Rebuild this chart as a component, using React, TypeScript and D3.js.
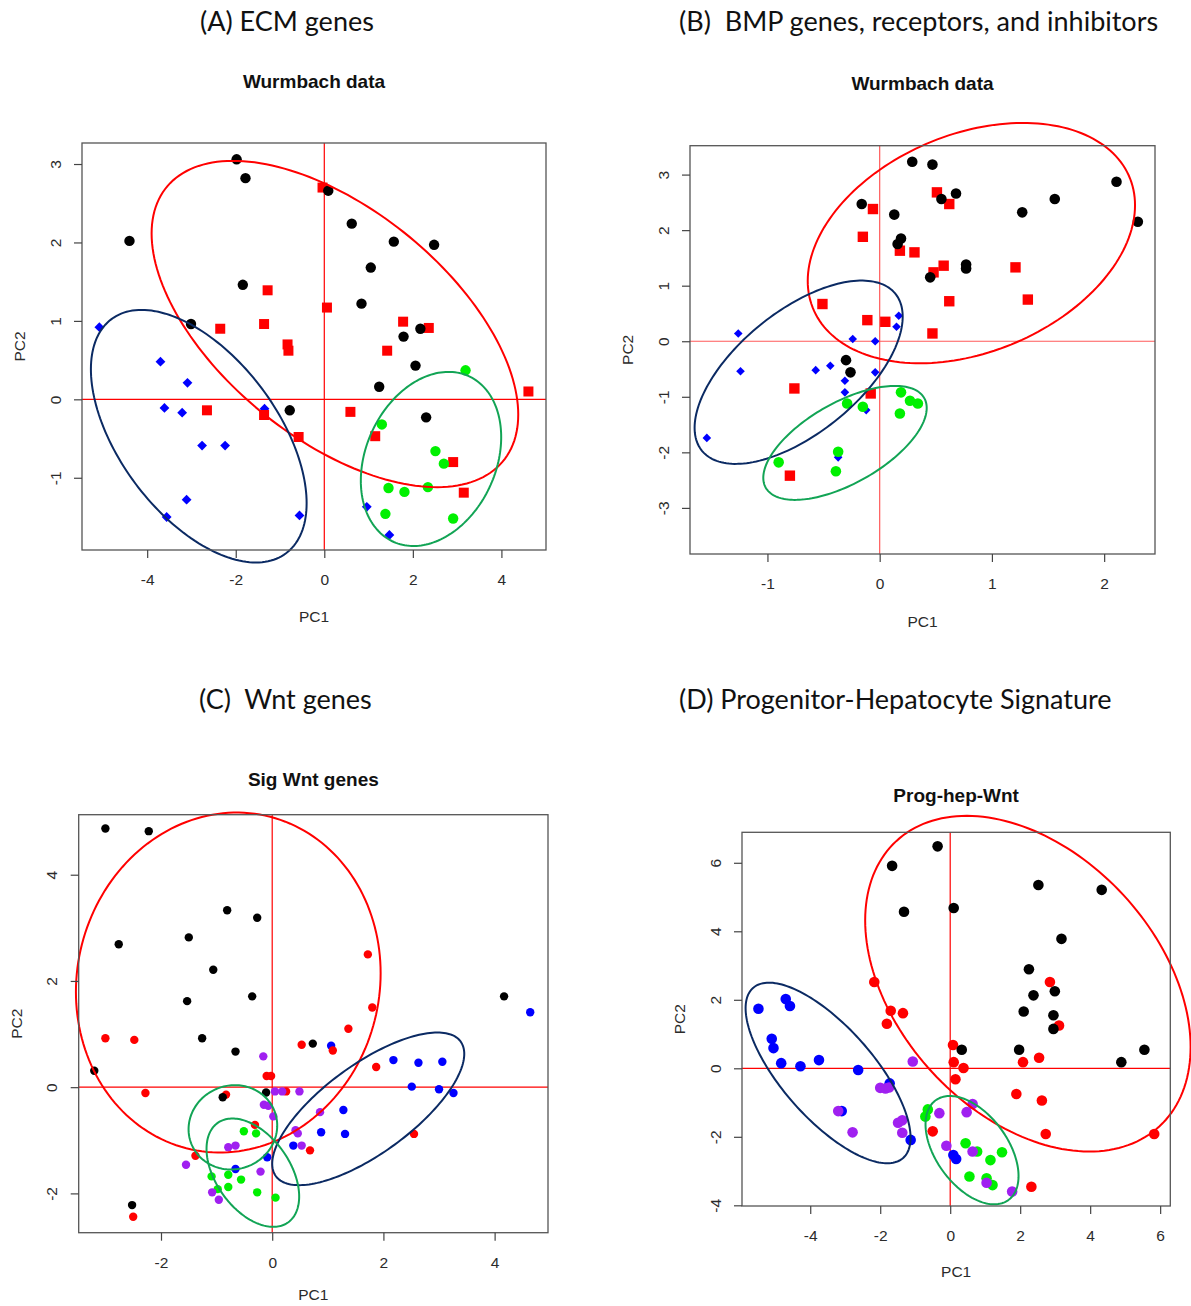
import React, { useEffect, useRef } from 'react';
import * as d3 from 'd3';

type Pt = [number, number];
// cx, cy, sx, sy, r  (centre, half extents and correlation, data units)
type Ell = [number, number, number, number, number];

// ---------- (A) ECM genes ----------
const ecmBlack: Pt[] = [
  [-1.98, 3.06], [-1.78, 2.82], [0.09, 2.66], [-4.40, 2.02], [0.62, 2.24], [1.57, 2.01],
  [2.48, 1.97], [1.05, 1.68], [-1.84, 1.46], [0.84, 1.22], [-3.01, 0.96], [2.17, 0.90],
  [1.79, 0.80], [2.06, 0.43], [1.24, 0.16], [-0.78, -0.14], [2.30, -0.23],
];
const ecmRed: Pt[] = [
  [-0.04, 2.70], [-1.28, 1.39], [0.06, 1.17], [-2.35, 0.90], [-1.36, 0.96], [-0.83, 0.70],
  [-0.81, 0.62], [1.78, 0.99], [2.36, 0.91], [1.42, 0.62], [4.61, 0.10], [-2.65, -0.14],
  [-1.36, -0.20], [-0.58, -0.48], [0.59, -0.16], [1.15, -0.47], [2.91, -0.80], [3.15, -1.19],
];
const ecmGreen: Pt[] = [
  [3.19, 0.37], [1.30, -0.32], [2.51, -0.66], [2.70, -0.82], [1.45, -1.13], [1.81, -1.18],
  [2.34, -1.12], [1.38, -1.46], [2.91, -1.52],
];
const ecmBlue: Pt[] = [
  [-5.08, 0.92], [-3.70, 0.48], [-3.09, 0.21], [-3.61, -0.11], [-3.21, -0.17], [-2.76, -0.59],
  [-2.24, -0.59], [-1.35, -0.12], [-3.11, -1.28], [-3.56, -1.50], [-0.56, -1.48], [0.96, -1.37],
  [1.47, -1.73],
];
const ecmEllRed: Ell = [0.24, 0.96, 4.14, 2.08, -0.555];
const ecmEllNavy: Ell = [-2.835, -0.47, 2.436, 1.61, -0.53];
const ecmEllGreen: Ell = [2.41, -0.76, 1.585, 1.11, 0.25];

// ---------- (B) BMP ----------
const bmpBlack: Pt[] = [
  [0.29, 3.23], [0.47, 3.18], [2.11, 2.87], [0.68, 2.66], [0.55, 2.56], [1.56, 2.56],
  [-0.16, 2.47], [0.13, 2.28], [1.27, 2.32], [2.30, 2.15], [0.19, 1.85], [0.16, 1.75],
  [0.77, 1.38], [0.77, 1.31], [0.45, 1.15], [-0.30, -0.34], [-0.26, -0.56],
];
const bmpRed: Pt[] = [
  [0.51, 2.68], [0.62, 2.47], [-0.06, 2.38], [-0.15, 1.88], [0.18, 1.63], [0.31, 1.60],
  [0.57, 1.36], [0.48, 1.24], [1.21, 1.33], [1.32, 0.75], [0.62, 0.72], [-0.51, 0.67],
  [-0.11, 0.38], [0.05, 0.35], [0.47, 0.14], [-0.76, -0.85], [-0.08, -0.94], [-0.80, -2.42],
];
const bmpGreen: Pt[] = [
  [0.19, -0.92], [0.27, -1.07], [0.34, -1.12], [0.18, -1.30], [-0.29, -1.12], [-0.15, -1.18],
  [-0.37, -1.99], [-0.90, -2.18], [-0.39, -2.34],
];
const bmpBlue: Pt[] = [
  [-1.26, 0.14], [-1.24, -0.54], [-1.54, -1.74], [-0.24, 0.04], [-0.04, 0.00], [0.17, 0.46],
  [0.15, 0.26], [-0.57, -0.52], [-0.44, -0.44], [-0.31, -0.71], [-0.31, -0.92], [-0.04, -0.56],
  [-0.12, -1.24], [-0.37, -2.09],
];
const bmpEllRed: Ell = [0.817, 1.767, 1.458, 2.163, 0.315];
const bmpEllNavy: Ell = [-0.722, -0.558, 0.927, 1.65, 0.606];
const bmpEllGreen: Ell = [-0.309, -1.83, 0.728, 1.026, 0.612];

// ---------- (C) Wnt genes ----------
const wntBlack: Pt[] = [
  [-3.00, 4.87], [-2.22, 4.82], [-2.76, 2.69], [-0.81, 3.33], [-0.27, 3.19], [-1.50, 2.82],
  [-1.06, 2.21], [-1.53, 1.62], [-0.36, 1.71], [-1.26, 0.92], [-0.66, 0.67], [0.73, 0.82],
  [-3.20, 0.31], [-0.89, -0.19], [-0.11, -0.10], [-2.52, -2.22], [4.17, 1.71],
];
const wntRed: Pt[] = [
  [1.72, 2.50], [1.80, 1.50], [1.37, 1.10], [0.53, 0.80], [1.09, 0.69], [-3.00, 0.92],
  [-2.48, 0.89], [1.87, 0.38], [-0.10, 0.21], [-0.02, 0.21], [-2.28, -0.11], [-0.83, -0.14],
  [0.25, -0.08], [-0.31, -0.71], [0.68, -1.19], [-1.38, -1.29], [2.55, -0.88], [-2.50, -2.44],
];
const wntBlue: Pt[] = [
  [1.06, 0.78], [2.18, 0.51], [2.63, 0.46], [3.06, 0.48], [2.51, 0.01], [3.00, -0.04],
  [3.26, -0.11], [1.28, -0.43], [0.88, -0.85], [1.31, -0.88], [0.38, -1.10], [-0.09, -1.32],
  [-0.66, -1.54], [4.64, 1.41],
];
const wntPurple: Pt[] = [
  [-0.16, 0.58], [0.05, -0.08], [0.18, -0.08], [0.49, -0.08], [-0.15, -0.33], [-0.07, -0.35],
  [0.02, -0.55], [0.86, -0.47], [0.42, -0.81], [0.46, -0.87], [0.53, -1.10], [-0.79, -1.13],
  [-0.66, -1.10], [-1.55, -1.46], [-0.21, -1.59], [-1.08, -1.98], [-0.96, -2.12],
];
const wntGreen: Pt[] = [
  [-0.51, -0.83], [-0.29, -0.87], [-1.09, -1.68], [-0.79, -1.65], [-0.56, -1.74], [-0.79, -1.88],
  [-0.98, -1.92], [-0.27, -1.98], [0.06, -2.08],
];
const wntEllRed: Ell = [-0.79, 1.97, 2.74, 3.20, 0.055];
const wntEllNavy: Ell = [1.727, -0.408, 1.727, 1.437, 0.72];
const wntEllGreen1: Ell = [-0.707, -0.756, 0.797, 0.794, 0.045];
const wntEllGreen2: Ell = [-0.348, -1.61, 0.833, 1.02, -0.44];

// ---------- (D) Progenitor-Hepatocyte ----------
const phBlack: Pt[] = [
  [-0.36, 6.48], [-1.66, 5.91], [2.52, 5.35], [4.33, 5.21], [-1.32, 4.57], [0.10, 4.68],
  [3.18, 3.78], [2.25, 2.89], [2.38, 2.13], [2.99, 2.25], [2.10, 1.66], [2.95, 1.55],
  [2.95, 1.15], [0.33, 0.54], [1.97, 0.54], [5.55, 0.54], [4.89, 0.18],
];
const phRed: Pt[] = [
  [-2.17, 2.52], [2.85, 2.52], [-1.70, 1.68], [-1.35, 1.61], [-1.81, 1.30], [3.11, 1.25],
  [0.08, 0.68], [0.10, 0.18], [0.38, 0.01], [2.08, 0.18], [2.54, 0.31], [0.15, -0.32],
  [1.89, -0.75], [2.62, -0.94], [2.73, -1.92], [-0.50, -1.84], [2.32, -3.46], [5.83, -1.92],
];
const phBlue: Pt[] = [
  [-5.48, 1.74], [-4.70, 2.02], [-4.58, 1.82], [-5.10, 0.86], [-5.05, 0.59], [-4.83, 0.15],
  [-4.28, 0.06], [-3.75, 0.24], [-2.63, -0.05], [-1.73, -0.44], [-3.10, -1.25], [-1.13, -2.09],
  [0.09, -2.53], [0.17, -2.65],
];
const phPurple: Pt[] = [
  [-1.07, 0.20], [-2.00, -0.57], [-1.85, -0.59], [-1.75, -0.56], [-3.20, -1.25], [-2.79, -1.87],
  [-1.49, -1.59], [-1.37, -1.52], [-1.37, -1.88], [-0.31, -1.31], [0.47, -1.28], [0.64, -1.04],
  [-0.11, -2.26], [0.64, -2.43], [1.04, -3.34], [1.77, -3.60],
];
const phGreen: Pt[] = [
  [-0.64, -1.20], [-0.71, -1.41], [0.44, -2.19], [0.77, -2.43], [1.48, -2.45], [1.15, -2.68],
  [0.55, -3.16], [1.04, -3.21], [1.21, -3.41],
];
const phEllRed: Ell = [2.22, 2.47, 4.65, 4.90, -0.377];
const phEllNavy: Ell = [-3.49, -0.136, 2.357, 2.636, -0.717];
const phEllGreen: Ell = [0.624, -2.39, 1.329, 1.581, -0.477];

// ---------- styling ----------
const C_BLACK = '#000000';
const C_RED = '#ff0000';
const C_GREEN = '#00f000';
const C_BLUE = '#0000ff';
const C_PURPLE = '#a020f0';
const E_RED = '#ff0000';
const E_NAVY = '#0b2a63';
const E_GREEN = '#12a455';

type Shape = 'circle' | 'square' | 'diamond';
interface Series { pts: Pt[]; color: string; shape: Shape; size: number }
interface PanelCfg {
  box: [number, number, number, number];
  xDomain: [number, number];
  yDomain: [number, number];
  xTicks: number[];
  yTicks: number[];
  series: Series[];
  ellipses: { e: Ell; color: string }[];
  title: string;
  titleX: number;
  titleY: number;
  subtitle: string;
  subY: number;
  xlabGap: number;
  refColor: string;
}

const panels: PanelCfg[] = [
  {
    box: [82, 143, 546, 550], xDomain: [-5.472, 5.007], yDomain: [-1.921, 3.268],
    xTicks: [-4, -2, 0, 2, 4], yTicks: [-1, 0, 1, 2, 3],
    series: [
      { pts: ecmBlue, color: C_BLUE, shape: 'diamond', size: 4.9 },
      { pts: ecmRed, color: C_RED, shape: 'square', size: 5 },
      { pts: ecmGreen, color: C_GREEN, shape: 'circle', size: 5.2 },
      { pts: ecmBlack, color: C_BLACK, shape: 'circle', size: 5.2 },
    ],
    ellipses: [{ e: ecmEllRed, color: E_RED }, { e: ecmEllNavy, color: E_NAVY }, { e: ecmEllGreen, color: E_GREEN }],
    title: '(A) ECM genes', titleX: 200, titleY: 31, subtitle: 'Wurmbach data', subY: 88, xlabGap: 72, refColor: '#ff0000',
  },
  {
    box: [690, 145.7, 1155, 554], xDomain: [-1.69, 2.453], yDomain: [-3.83, 3.52],
    xTicks: [-1, 0, 1, 2], yTicks: [-3, -2, -1, 0, 1, 2, 3],
    series: [
      { pts: bmpBlue, color: C_BLUE, shape: 'diamond', size: 4.3 },
      { pts: bmpRed, color: C_RED, shape: 'square', size: 5.2 },
      { pts: bmpGreen, color: C_GREEN, shape: 'circle', size: 5.3 },
      { pts: bmpBlack, color: C_BLACK, shape: 'circle', size: 5.3 },
    ],
    ellipses: [{ e: bmpEllRed, color: E_RED }, { e: bmpEllNavy, color: E_NAVY }, { e: bmpEllGreen, color: E_GREEN }],
    title: '(B)  BMP genes, receptors, and inhibitors', titleX: 679, titleY: 31, subtitle: 'Wurmbach data', subY: 90, xlabGap: 73, refColor: '#ff5a5a',
  },
  {
    box: [78.7, 814.7, 548, 1232.7], xDomain: [-3.48, 4.96], yDomain: [-2.74, 5.13],
    xTicks: [-2, 0, 2, 4], yTicks: [-2, 0, 2, 4],
    series: [
      { pts: wntBlue, color: C_BLUE, shape: 'circle', size: 4.2 },
      { pts: wntRed, color: C_RED, shape: 'circle', size: 4.2 },
      { pts: wntGreen, color: C_GREEN, shape: 'circle', size: 4.2 },
      { pts: wntBlack, color: C_BLACK, shape: 'circle', size: 4.2 },
      { pts: wntPurple, color: C_PURPLE, shape: 'circle', size: 4.2 },
    ],
    ellipses: [
      { e: wntEllRed, color: E_RED }, { e: wntEllNavy, color: E_NAVY },
      { e: wntEllGreen1, color: E_GREEN }, { e: wntEllGreen2, color: E_GREEN },
    ],
    title: '(C)  Wnt genes', titleX: 199, titleY: 709, subtitle: 'Sig Wnt genes', subY: 786, xlabGap: 67, refColor: '#ff0000',
  },
  {
    box: [742, 832.3, 1170.3, 1206], xDomain: [-5.95, 6.29], yDomain: [-4.02, 6.89],
    xTicks: [-4, -2, 0, 2, 4, 6], yTicks: [-4, -2, 0, 2, 4, 6],
    series: [
      { pts: phBlue, color: C_BLUE, shape: 'circle', size: 5.3 },
      { pts: phRed, color: C_RED, shape: 'circle', size: 5.3 },
      { pts: phGreen, color: C_GREEN, shape: 'circle', size: 5.3 },
      { pts: phBlack, color: C_BLACK, shape: 'circle', size: 5.3 },
      { pts: phPurple, color: C_PURPLE, shape: 'circle', size: 5.3 },
    ],
    ellipses: [{ e: phEllRed, color: E_RED }, { e: phEllNavy, color: E_NAVY }, { e: phEllGreen, color: E_GREEN }],
    title: '(D) Progenitor-Hepatocyte Signature', titleX: 679, titleY: 709, subtitle: 'Prog-hep-Wnt', subY: 802, xlabGap: 71, refColor: '#ff0000',
  },
];

const AXIS_FONT = 'Liberation Sans, Arial, sans-serif';
const TITLE_FONT = 'Lato, "Open Sans", sans-serif';

function ellipsePoints(e: Ell): Pt[] {
  const [cx, cy, sx, sy, r] = e;
  const k = Math.sqrt(1 - r * r);
  return d3.range(0, 2 * Math.PI, Math.PI / 90).map(t => [
    cx + sx * Math.cos(t),
    cy + sy * (r * Math.cos(t) + k * Math.sin(t)),
  ] as Pt);
}

function drawPanel(svg: d3.Selection<SVGSVGElement, unknown, null, undefined>, p: PanelCfg) {
  const [l, t, rgt, b] = p.box;
  const x = d3.scaleLinear().domain(p.xDomain).range([l, rgt]);
  const y = d3.scaleLinear().domain(p.yDomain).range([b, t]);
  const g = svg.append('g');

  // reference lines at 0
  g.append('line').attr('x1', x(0)).attr('x2', x(0)).attr('y1', t).attr('y2', b)
    .attr('stroke', p.refColor).attr('stroke-width', 1.2);
  g.append('line').attr('x1', l).attr('x2', rgt).attr('y1', y(0)).attr('y2', y(0))
    .attr('stroke', p.refColor).attr('stroke-width', 1.2);

  // points
  p.series.forEach(s => {
    const sym = d3.symbol()
      .type(s.shape === 'circle' ? d3.symbolCircle : d3.symbolSquare)
      .size(s.shape === 'circle' ? Math.PI * s.size * s.size : s.shape === 'square' ? (2 * s.size) ** 2 : 2 * s.size * s.size);
    g.append('g').attr('fill', s.color)
      .selectAll('path')
      .data(s.pts)
      .join('path')
      .attr('transform', d => `translate(${x(d[0])},${y(d[1])})${s.shape === 'diamond' ? ' rotate(45)' : ''}`)
      .attr('d', sym()!);
  });

  // ellipses
  const line = d3.line<Pt>().x(d => x(d[0])).y(d => y(d[1])).curve(d3.curveLinearClosed);
  p.ellipses.forEach(el => {
    g.append('path').attr('d', line(ellipsePoints(el.e))!)
      .attr('fill', 'none').attr('stroke', el.color).attr('stroke-width', 2);
  });

  // box
  g.append('rect').attr('x', l).attr('y', t).attr('width', rgt - l).attr('height', b - t)
    .attr('fill', 'none').attr('stroke', '#555').attr('stroke-width', 1.3);

  // x axis
  g.append('g')
    .attr('transform', `translate(0,${b})`)
    .call(d3.axisBottom(x).tickValues(p.xTicks).tickSize(8).tickSizeOuter(0).tickPadding(16).tickFormat(d3.format('d')))
    .call(a => a.select('.domain').remove())
    .call(a => a.selectAll('line').attr('stroke', '#444').attr('stroke-width', 1.2))
    .call(a => a.selectAll('text').attr('fill', '#2b2b2b').attr('font-size', 15.5).attr('font-family', AXIS_FONT))
    .call(a => a.selectAll('text').text((d: any) => String(d).replace('\u2212', '-')));

  // y axis, labels parallel to the axis
  g.append('g')
    .attr('transform', `translate(${l},0)`)
    .call(d3.axisLeft(y).tickValues(p.yTicks).tickSize(8).tickSizeOuter(0).tickFormat(d3.format('d')))
    .call(a => a.select('.domain').remove())
    .call(a => a.selectAll('line').attr('stroke', '#444').attr('stroke-width', 1.2))
    .call(a => a.selectAll('text')
      .attr('x', null).attr('dy', null)
      .attr('transform', 'translate(-27,0) rotate(-90)')
      .attr('text-anchor', 'middle').attr('dominant-baseline', 'central')
      .attr('fill', '#2b2b2b').attr('font-size', 15.5).attr('font-family', AXIS_FONT))
    .call(a => a.selectAll('text').text((d: any) => String(d).replace('\u2212', '-')));

  const mx = (l + rgt) / 2;
  const my = (t + b) / 2;
  g.append('text').attr('x', mx).attr('y', b + p.xlabGap).attr('text-anchor', 'middle')
    .attr('font-family', AXIS_FONT).attr('font-size', 15.5).attr('fill', '#2b2b2b').text('PC1');
  g.append('text').attr('transform', `translate(${l - 57},${my}) rotate(-90)`).attr('text-anchor', 'middle')
    .attr('font-family', AXIS_FONT).attr('font-size', 15.5).attr('fill', '#2b2b2b').text('PC2');

  // subtitle (R main) and figure title
  g.append('text').attr('x', mx).attr('y', p.subY).attr('text-anchor', 'middle')
    .attr('font-family', AXIS_FONT).attr('font-weight', 'bold').attr('font-size', 19).attr('fill', '#111')
    .text(p.subtitle);
  g.append('text').attr('x', p.titleX).attr('y', p.titleY)
    .attr('font-family', TITLE_FONT).attr('font-size', 27).attr('fill', '#111')
    .attr('xml:space', 'preserve').style('white-space', 'pre')
    .text(p.title);
}

const App: React.FC = () => {
  const svgRef = useRef<SVGSVGElement>(null);

  useEffect(() => {
    if (!svgRef.current) return;
    const svg = d3.select(svgRef.current);
    svg.selectAll('*').remove();
    panels.forEach(p => drawPanel(svg, p));
  }, []);

  return (
    <div style={{ position: 'absolute', left: 0, top: 0, background: '#fff' }}>
      <svg ref={svgRef} width={1191} height={1306} style={{ display: 'block' }} />
    </div>
  );
};

export default App;
